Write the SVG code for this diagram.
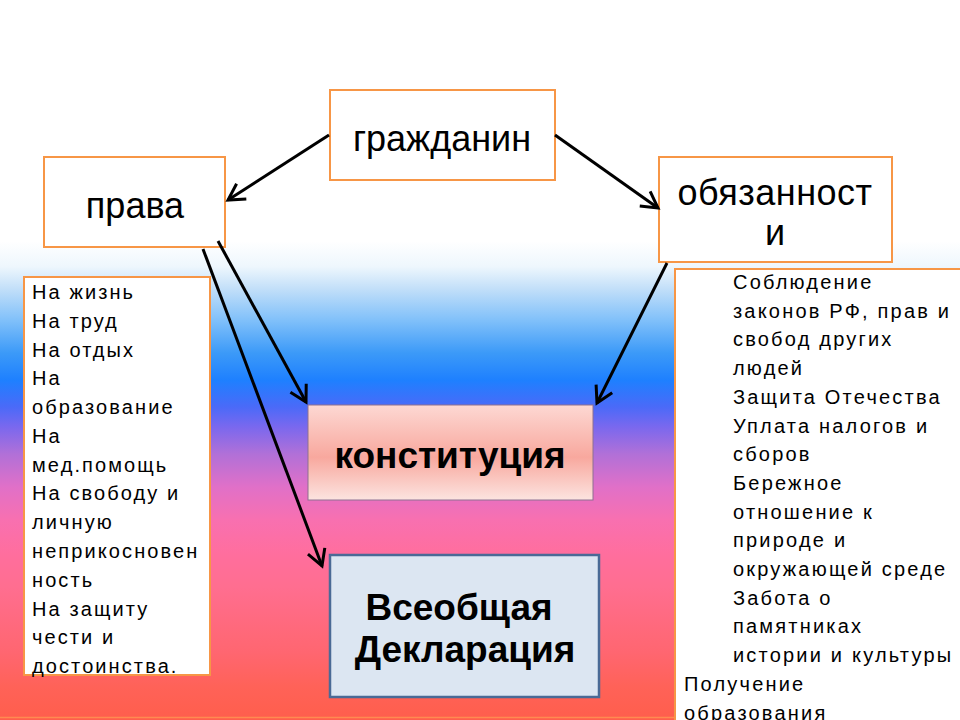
<svg xmlns="http://www.w3.org/2000/svg" width="960" height="720" viewBox="0 0 960 720">
<defs>
<linearGradient id="bg" x1="0" y1="0" x2="0" y2="720" gradientUnits="userSpaceOnUse">
<stop offset="0" stop-color="#FFFFFF"/>
<stop offset="0.335" stop-color="#FFFFFF"/>
<stop offset="0.37" stop-color="#EEF7FD"/>
<stop offset="0.40" stop-color="#C4E0F9"/>
<stop offset="0.445" stop-color="#80C0FA"/>
<stop offset="0.49" stop-color="#3C9AF8"/>
<stop offset="0.528" stop-color="#1E80FF"/>
<stop offset="0.565" stop-color="#4A6AF8"/>
<stop offset="0.593" stop-color="#7A68EE"/>
<stop offset="0.63" stop-color="#B070D8"/>
<stop offset="0.676" stop-color="#E070C8"/>
<stop offset="0.722" stop-color="#F870B0"/>
<stop offset="0.768" stop-color="#FF6E9E"/>
<stop offset="0.815" stop-color="#FF6E90"/>
<stop offset="0.86" stop-color="#FF6A80"/>
<stop offset="0.907" stop-color="#FF6670"/>
<stop offset="0.954" stop-color="#FF6258"/>
<stop offset="1" stop-color="#FF5E4C"/>
</linearGradient>
<linearGradient id="konst" x1="0" y1="0" x2="0" y2="1">
<stop offset="0" stop-color="#FDD8D3"/>
<stop offset="0.55" stop-color="#F8A89E"/>
<stop offset="1" stop-color="#FCE4E0"/>
</linearGradient>
<marker id="v" markerUnits="userSpaceOnUse" markerWidth="40" markerHeight="40" refX="0" refY="0" orient="auto" overflow="visible">
<path d="M-16,-9 L0,0 L-16,9" fill="none" stroke="#000" stroke-width="3" stroke-linejoin="miter"/>
</marker>
<style>
.box{fill:#FFFFFF;stroke:#F79646;stroke-width:2}
.big{font-family:"Liberation Sans",Arial,sans-serif;font-size:36px;fill:#000;text-anchor:middle}
.bold{font-family:"Liberation Sans",Arial,sans-serif;font-size:37px;font-weight:bold;fill:#000;text-anchor:middle}
.ll{font-family:"Liberation Sans",Arial,sans-serif;font-size:20px;letter-spacing:2.1px;fill:#000}
.rl{font-family:"Liberation Sans",Arial,sans-serif;font-size:20px;letter-spacing:2.2px;fill:#000}
.conn{fill:none;stroke:#000;stroke-width:3;marker-end:url(#v)}
</style>
</defs>
<rect x="0" y="0" width="960" height="720" fill="url(#bg)"/>
<line x1="0" y1="717.5" x2="960" y2="717.5" stroke="#FF8A50" stroke-width="1.5"/>

<g id="grazhdanin">
<rect class="box" x="330" y="90" width="225" height="90"/>
<text class="big" x="442" y="151">гражданин</text>
</g>

<g id="prava">
<rect class="box" x="44" y="157" width="181" height="90"/>
<text class="big" x="135" y="218">права</text>
</g>

<g id="obyazannosti">
<rect class="box" x="659" y="157" width="233" height="105"/>
<text class="big" x="775" y="205" letter-spacing="0.5">обязанност</text>
<text class="big" x="775" y="245">и</text>
</g>

<g id="prava-list">
<rect class="box" x="24" y="277" width="186" height="398"/>
<text class="ll" x="32" y="299">На жизнь</text>
<text class="ll" x="32" y="327.8">На труд</text>
<text class="ll" x="32" y="356.5">На отдых</text>
<text class="ll" x="32" y="385.3">На</text>
<text class="ll" x="32" y="414.1">образование</text>
<text class="ll" x="32" y="442.8">На</text>
<text class="ll" x="32" y="471.6">мед.помощь</text>
<text class="ll" x="32" y="500.4">На свободу и</text>
<text class="ll" x="32" y="529.2">личную</text>
<text class="ll" x="32" y="557.9">неприкосновен</text>
<text class="ll" x="32" y="586.7">ность</text>
<text class="ll" x="32" y="615.5">На защиту</text>
<text class="ll" x="32" y="644.2">чести и</text>
<text class="ll" x="32" y="673">достоинства.</text>
</g>

<g id="obyazannosti-list">
<rect class="box" x="675" y="269" width="300" height="470"/>
<text class="rl" x="733" y="289">Соблюдение</text>
<text class="rl" x="733" y="317.7">законов РФ, прав и</text>
<text class="rl" x="733" y="346.4">свобод других</text>
<text class="rl" x="733" y="375.1">людей</text>
<text class="rl" x="733" y="403.8">Защита Отечества</text>
<text class="rl" x="733" y="432.5">Уплата налогов и</text>
<text class="rl" x="733" y="461.2">сборов</text>
<text class="rl" x="733" y="489.9">Бережное</text>
<text class="rl" x="733" y="518.6">отношение к</text>
<text class="rl" x="733" y="547.3">природе и</text>
<text class="rl" x="733" y="576">окружающей среде</text>
<text class="rl" x="733" y="604.7">Забота о</text>
<text class="rl" x="733" y="633.4">памятниках</text>
<text class="rl" x="733" y="662.1">истории и культуры</text>
<text class="rl" x="684" y="690.8">Получение</text>
<text class="rl" x="684" y="719.5">образования</text>
</g>

<g id="konstitutsiya">
<rect x="308" y="405" width="285" height="95" fill="url(#konst)" stroke="#8E7090" stroke-width="1"/>
<text class="bold" x="450" y="468" font-size="38">конституция</text>
</g>

<g id="deklaratsiya">
<rect x="330" y="555" width="269" height="142" fill="#DCE6F2" stroke="#4A6A96" stroke-width="2.5"/>
<text class="bold" x="459" y="620">Всеобщая</text>
<text class="bold" x="465" y="662">Декларация</text>
</g>

<g id="connectors">
<line class="conn" x1="329" y1="135" x2="228" y2="200"/>
<line class="conn" x1="555" y1="135" x2="658" y2="208"/>
<line class="conn" x1="218" y1="241" x2="306" y2="402"/>
<line class="conn" x1="203" y1="249" x2="322" y2="566"/>
<line class="conn" x1="667" y1="263" x2="597" y2="403"/>
</g>
</svg>
